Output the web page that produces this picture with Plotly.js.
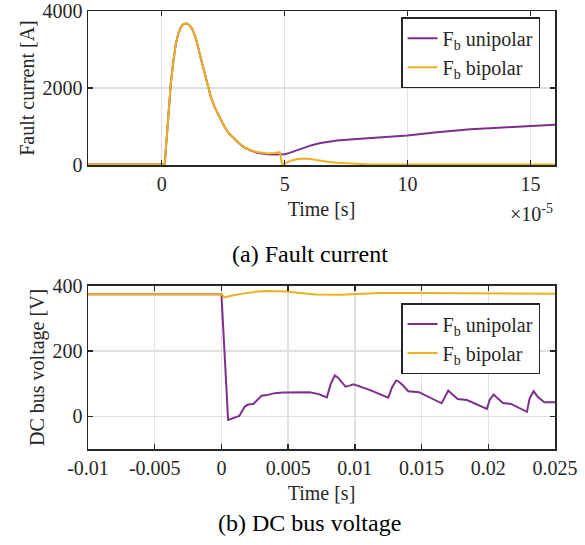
<!DOCTYPE html>
<html>
<head>
<meta charset="utf-8">
<script src="https://cdn.plot.ly/plotly-3.0.1.min.js"></script>
<style>html,body{margin:0;padding:0;background:#fff;}#plot{width:585px;height:545px;}</style>
</head>
<body>
<div id="plot"></div>
<script>
// (a) Fault current, time in units of 1e-5 s
const currentTimeUni = [-3, 0.09, 0.12, 0.25, 0.37, 0.47, 0.57, 0.67, 0.77, 0.85, 0.93, 1.02, 1.1, 1.18, 1.25, 1.35, 1.45, 1.58, 1.72, 1.85, 1.99, 2.12, 2.26, 2.4, 2.53, 2.72, 2.94, 3.15, 3.35, 3.6, 3.89, 4.1, 4.3, 4.5, 4.7, 4.85, 5.0, 5.2, 5.4, 5.6, 5.78, 6.1, 6.46, 6.8, 7.14, 7.8, 8.5, 9.2, 9.99, 11.2, 12.56, 13.9, 15.0, 16];
const currentUni     = [10, 10, 20, 1100, 2122, 2680, 3141, 3400, 3567, 3640, 3672, 3677, 3650, 3590, 3524, 3350, 3141, 2800, 2463, 2110, 1783, 1550, 1358, 1180, 1019, 830, 680, 560, 460, 380, 320, 295, 280, 272, 270, 272, 280, 315, 360, 410, 450, 515, 570, 610, 637, 670, 696, 725, 764, 849, 926, 976, 1011, 1045];
const currentTimeBip = [-3, 0.09, 0.12, 0.25, 0.37, 0.47, 0.57, 0.67, 0.77, 0.85, 0.93, 1.02, 1.1, 1.18, 1.25, 1.35, 1.45, 1.58, 1.72, 1.85, 1.99, 2.12, 2.26, 2.4, 2.53, 2.72, 2.94, 3.15, 3.35, 3.6, 3.89, 4.1, 4.3, 4.6, 4.8, 4.9, 5.0, 5.24, 5.5, 5.78, 6.1, 6.46, 6.8, 7.14, 7.82, 8.5, 10, 16];
const currentBip     = [10, 10, 20, 1100, 2122, 2680, 3141, 3400, 3567, 3640, 3672, 3677, 3650, 3590, 3524, 3350, 3141, 2800, 2463, 2110, 1783, 1550, 1358, 1180, 1019, 830, 680, 565, 467, 390, 335, 312, 300, 310, 335, 5, 30, 110, 150, 170, 150, 110, 80, 60, 33, 15, 10, 10];

// (b) DC bus voltage, time in s
const voltTimeUni = [-0.01, 0, 0.0005, 0.0009, 0.00134, 0.00175, 0.002, 0.0024, 0.0027, 0.003, 0.0034, 0.004, 0.0046, 0.0059, 0.0066, 0.0073, 0.0079, 0.0082, 0.0085, 0.0087, 0.0089, 0.0093, 0.0096, 0.0099, 0.0111, 0.0125, 0.0128, 0.0131, 0.0133, 0.0136, 0.014, 0.0148, 0.0165, 0.0168, 0.017, 0.0173, 0.0177, 0.0184, 0.0199, 0.0201, 0.0204, 0.0207, 0.0211, 0.0217, 0.0229, 0.0231, 0.0234, 0.0237, 0.0242, 0.025];
const voltUni     = [374, 374, -11, -5, 1, 30, 36, 38, 52, 63, 65, 71, 73, 75, 74, 68, 58, 100, 125, 120, 110, 91, 94, 98, 81, 57, 90, 110, 106, 95, 77, 74, 40, 65, 79, 68, 53, 50, 23, 50, 67, 55, 41, 38, 14, 55, 77, 60, 43, 43];
const voltTimeBip = [-0.01, 0, 0.0002, 0.0005, 0.0009, 0.0015, 0.002, 0.0027, 0.0034, 0.0042, 0.0049, 0.006, 0.0071, 0.0089, 0.0105, 0.0119, 0.0149, 0.0199, 0.025];
const voltBip     = [374, 374, 364, 368, 371, 375, 378, 382, 384, 384, 382, 377, 373, 372, 375, 378, 378, 376, 375];

const topTickVals = [0, 5, 10, 15];
const topTickText = ['0', '5', '10', '15'];
const topYTickVals = [0, 2000, 4000];
const botTickVals = [-0.01, -0.005, 0, 0.005, 0.01, 0.015, 0.02, 0.025];
const botTickText = ['-0.01', '-0.005', '0', '0.005', '0.01', '0.015', '0.02', '0.025'];
const botYTickVals = [0, 200, 400];

const purple = '#7E2F8E', orange = '#EDB120';
const FONT = 'Liberation Serif';
const axc = '#262626';

const traces = [
  {x: currentTimeUni, y: currentUni, mode: 'lines', name: 'F<sub>b</sub> unipolar', line: {color: purple, width: 2}, xaxis: 'x', yaxis: 'y', legend: 'legend'},
  {x: currentTimeBip, y: currentBip, mode: 'lines', name: 'F<sub>b</sub> bipolar', line: {color: orange, width: 2}, xaxis: 'x', yaxis: 'y', legend: 'legend'},
  {x: voltTimeUni, y: voltUni, mode: 'lines', name: 'F<sub>b</sub> unipolar', line: {color: purple, width: 2}, xaxis: 'x2', yaxis: 'y2', legend: 'legend2'},
  {x: voltTimeBip, y: voltBip, mode: 'lines', name: 'F<sub>b</sub> bipolar', line: {color: orange, width: 2}, xaxis: 'x2', yaxis: 'y2', legend: 'legend2'}
];

const axBase = {
  showline: true, linecolor: axc, linewidth: 1.5, mirror: 'ticks',
  ticks: 'inside', ticklen: 5, tickwidth: 1.5, tickcolor: axc,
  showgrid: true, gridcolor: '#e0e0e0', gridwidth: 1.5, zeroline: false,
  ticklabeloverflow: 'allow',
  tickfont: {family: FONT, size: 20, color: axc}
};

const layout = {
  width: 585, height: 545,
  margin: {l: 88, r: 30, t: 11, b: 96},
  paper_bgcolor: '#fff', plot_bgcolor: '#fff',
  font: {family: FONT, size: 20, color: axc},
  xaxis: Object.assign({}, axBase, {domain: [0, 1], anchor: 'y', range: [-3, 16], tickmode: 'array', tickvals: topTickVals, ticktext: topTickText,
    title: {text: 'Time [s]', font: {family: FONT, size: 20, color: axc}, standoff: 8}}),
  yaxis: Object.assign({}, axBase, {domain: [0.6484, 1], anchor: 'x', range: [0, 4000], tickmode: 'array', tickvals: topYTickVals,
    title: {text: 'Fault current [A]', font: {family: FONT, size: 20, color: axc}, standoff: 2}}),
  xaxis2: Object.assign({}, axBase, {domain: [0, 1], anchor: 'y2', range: [-0.01, 0.025], tickmode: 'array', tickvals: botTickVals, ticktext: botTickText,
    title: {text: 'Time [s]', font: {family: FONT, size: 20, color: axc}, standoff: 8}}),
  yaxis2: Object.assign({}, axBase, {domain: [0, 0.3728], anchor: 'x2', range: [-100, 400], tickmode: 'array', tickvals: botYTickVals,
    title: {text: 'DC bus voltage [V]', font: {family: FONT, size: 20, color: axc}, standoff: 2}}),
  legend: {x: 0.968, y: 0.986, xanchor: 'right', yanchor: 'top', bgcolor: '#fff', bordercolor: axc, borderwidth: 1.5,
    font: {family: FONT, size: 20, color: axc}},
  legend2: {x: 0.968, y: 0.3333, xanchor: 'right', yanchor: 'top', bgcolor: '#fff', bordercolor: axc, borderwidth: 1.5,
    font: {family: FONT, size: 20, color: axc}},
  annotations: [
    {text: '×10<sup>-5</sup>', xref: 'paper', yref: 'paper', x: 1, y: 0.5388, xanchor: 'right', yanchor: 'middle', showarrow: false, font: {family: FONT, size: 20, color: axc}},
    {text: '(a) Fault current', xref: 'paper', yref: 'paper', x: 0.475, y: 0.4452, xanchor: 'center', yanchor: 'middle', showarrow: false, font: {family: FONT, size: 24, color: '#000'}},
    {text: '(b) DC bus voltage', xref: 'paper', yref: 'paper', x: 0.475, y: -0.169, xanchor: 'center', yanchor: 'middle', showarrow: false, font: {family: FONT, size: 24, color: '#000'}}
  ]
};

Plotly.newPlot('plot', traces, layout, {staticPlot: true, displayModeBar: false});
</script>
</body>
</html>
